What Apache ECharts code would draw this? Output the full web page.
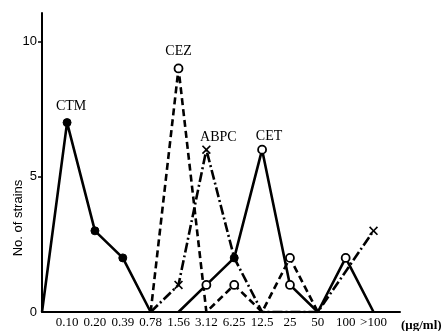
<!DOCTYPE html>
<html><head><meta charset="utf-8">
<script src="https://cdn.jsdelivr.net/npm/echarts@6/dist/echarts.min.js"></script>
<style>html,body{margin:0;padding:0;background:#fff}#c{width:444px;height:331px}</style>
</head><body><div id="c"></div>
<script>
// Tick labels of x axis (concentration, µg/ml); position index 1..12
const xLabels = ['0.10','0.20','0.39','0.78','1.56','3.12','6.25','12.5','25','50','100','>100'];
const yTicks = [0,5,10];
// Series: [x position index, number of strains]
const ctm  = [[0.1,0],[1,7],[2,3],[3,2],[4,0]];
const cez  = [[4,0],[5,9],[6,0],[7,1],[8,0],[9,2],[10,0]];
const abpc = [[4,0],[5,1],[6,6],[7,2],[8,0],[9,0],[10,0],[12,3]];
const cet  = [[5,0],[6,1],[7,2],[8,6],[9,1],[10,0],[11,2],[12,0]];
// marker types per point: 'f' filled, 'o' open, 'x' cross, '' none
const ctmMk  = ['', 'f','f','f',''];
const cezMk  = ['', 'o','', 'o','', 'o',''];
const abpcMk = ['', 'x','x','', '', '', '', 'x'];
const cetMk  = ['', 'o','f','o','o','', 'o',''];
const peakLabels = {CTM:1, CEZ:1, ABPC:2, CET:3};

const X_PATH = 'path://M0,1.3L1.3,0L5,3.7L8.7,0L10,1.3L6.3,5L10,8.7L8.7,10L5,6.3L1.3,10L0,8.7L3.7,5Z';
function build(name, data, mk, lineType, labelOffset){
  return {
    name, type:'line', data: data.map((d,i)=>{
      const m = mk[i];
      const o = {value:d};
      if(m==='f'){ o.symbol='circle'; o.symbolSize=8; o.itemStyle={color:'#000',borderColor:'#000',borderWidth:1}; }
      else if(m==='o'){ o.symbol='circle'; o.symbolSize=8; o.itemStyle={color:'#fff',borderColor:'#000',borderWidth:1.8}; }
      else if(m==='x'){ o.symbol=X_PATH; o.symbolSize=9; o.itemStyle={color:'#000',borderWidth:0}; }
      else { o.symbol='none'; }
      if(i===peakLabels[name]){
        o.label={show:true, formatter:name, position:'top', offset:labelOffset,
          fontFamily:'Liberation Serif', fontSize:14, color:'#000'};
      }
      return o;
    }),
    showSymbol:true, showAllSymbol:true, animation:false,
    lineStyle:{color:'#000', width:2.6, type:lineType},
    itemStyle:{color:'#000'},
    z: 3
  };
}

const chart = echarts.init(document.getElementById('c'), null, {renderer:'canvas'});
chart.setOption({
  backgroundColor:'#fff',
  animation:false,
  grid:{left:42, right:44, top:13, bottom:19},
  xAxis:{type:'value', min:0.1, max:12.95,
    axisLine:{lineStyle:{color:'#000', width:2}},
    axisTick:{show:false}, splitLine:{show:false},
    axisLabel:{customValues:xLabels.map((_,i)=>i+1), formatter:v=>xLabels[Math.round(v)-1]||'',
      color:'#000', fontFamily:'Liberation Serif', fontSize:13, margin:4}
  },
  yAxis:{type:'value', min:0, max:11.05,
    axisLine:{show:true, lineStyle:{color:'#000', width:2}},
    axisTick:{show:true, customValues:[5,10], length:4, lineStyle:{color:'#000', width:1.5}},
    splitLine:{show:false},
    axisLabel:{customValues:yTicks, color:'#000', fontFamily:'Liberation Sans', fontSize:13, margin:5}
  },
  graphic:[
    {type:'text', x:18, y:218, rotation:Math.PI/2,
      style:{text:'No. of strains', fill:'#000', font:'13px "Liberation Sans"', textAlign:'center', textVerticalAlign:'middle'}},
    {type:'text', x:401, y:326,
      style:{text:'(μg/ml)', fill:'#000', font:'bold 13px "Liberation Serif"', textAlign:'left', textVerticalAlign:'middle'}}
  ],
  series:[
    build('CTM', ctm, ctmMk, 'solid', [4,0]),
    build('CEZ', cez, cezMk, [7,4], [0,0]),
    build('ABPC', abpc, abpcMk, [10,3,2,3], [12,4]),
    build('CET', cet, cetMk, 'solid', [7,4])
  ]
});
</script></body></html>
